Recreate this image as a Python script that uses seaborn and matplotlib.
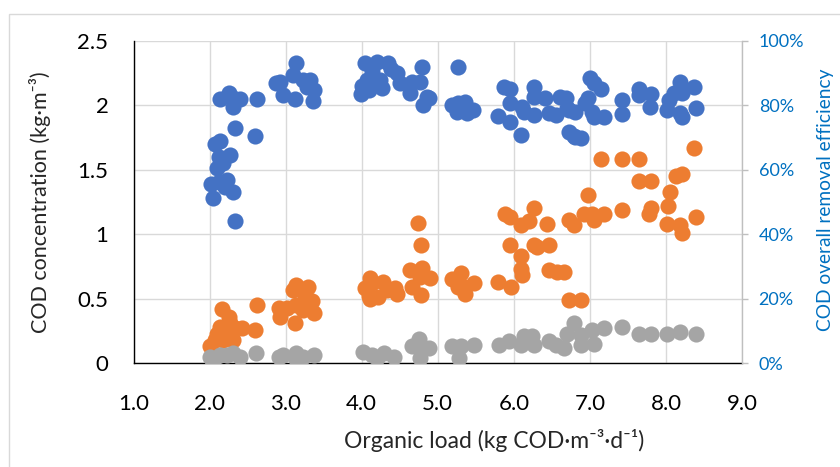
import matplotlib
matplotlib.use("Agg")
import matplotlib.pyplot as plt
from matplotlib.patches import Rectangle
import seaborn as sns
import pandas as pd

# ---------------- data ----------------
# Series 1 (blue, right axis): COD overall removal efficiency (%)
eff_load = [2.14, 2.26, 2.31, 2.40, 2.31, 2.62, 2.34, 2.60, 2.07, 2.14, 2.13, 2.27, 2.18, 2.10,
            2.02, 2.12, 2.23, 2.20, 2.31, 2.04, 2.33,
            2.92, 2.88, 3.14, 3.10, 3.23, 3.32, 3.28, 3.37, 2.96, 3.12, 3.36,
            4.05, 4.20, 4.34, 4.14, 4.38, 4.47, 4.07, 4.24, 4.09, 4.27, 4.51, 3.99, 4.00,
            4.66, 4.64, 4.79, 4.77, 4.86, 4.81, 4.89,
            5.27, 5.19, 5.27, 5.36, 5.38, 5.47, 5.25,
            5.87, 5.95, 5.95, 5.79, 5.95, 6.10, 6.11, 6.13, 6.26, 6.26, 6.27, 6.41, 6.46,
            6.56, 6.61, 6.68, 6.72, 6.72, 6.81,
            7.00, 7.05, 7.14, 6.70, 6.81, 6.94, 6.98, 7.03, 7.05, 7.18, 6.79, 6.88,
            7.42, 7.42, 7.64, 7.64, 7.80, 7.79, 8.01, 8.04, 8.11, 8.18, 8.21, 8.19, 8.21,
            8.37, 8.39]
eff_pct = [81.8, 83.7, 82.1, 81.8, 79.3, 81.8, 73.0, 70.4, 68.0, 68.9, 64.0, 64.6, 62.0, 60.4,
           55.6, 56.3, 56.8, 54.7, 53.2, 51.3, 44.1,
           87.3, 86.8, 93.0, 89.4, 87.8, 87.8, 85.7, 84.7, 83.2, 81.8, 81.3,
           93.1, 93.4, 93.1, 90.6, 91.2, 90.0, 87.8, 87.8, 84.7, 85.4, 86.9, 83.5, 86.1,
           87.3, 83.7, 91.8, 87.3, 82.6, 80.1, 82.1,
           91.8, 80.1, 80.8, 81.1, 77.5, 78.5, 78.0,
           85.7, 84.9, 80.8, 76.7, 74.9, 70.8, 79.5, 78.0, 77.0, 85.7, 82.6, 82.1, 77.5,
           77.0, 82.6, 82.1, 78.5, 71.8, 70.2,
           88.5, 86.8, 84.9, 79.0, 78.0, 80.6, 82.1, 78.0, 76.4, 76.4, 70.4, 69.7,
           81.6, 77.2, 84.9, 83.2, 83.5, 79.5, 78.5, 81.6, 83.7, 87.3, 83.7, 77.5, 76.4,
           85.7, 79.2]

# Series 2 (orange, left axis): COD concentration (kg/m3)
mid_load = [2.01, 2.16, 2.25, 2.14, 2.27, 2.10, 2.23, 2.34, 2.42, 2.07, 2.18, 2.31, 2.62, 2.60,
            2.91, 2.93, 3.13, 3.10, 3.30, 3.26, 3.13, 3.23, 3.35, 3.37, 3.12, 3.02,
            4.05, 4.11, 4.11, 4.14, 4.28, 4.44, 4.09, 4.22, 4.47,
            4.74, 4.78, 4.64, 4.79, 4.77, 4.90, 4.66, 4.78, 4.33,
            5.19, 5.30, 5.27, 5.36, 5.48, 5.36, 5.79, 5.96,
            5.88, 5.95, 6.26, 6.10, 6.20, 6.44, 6.72, 5.95, 6.10, 6.26, 6.31, 6.46,
            6.10, 6.11, 6.46, 6.57, 6.66, 6.72, 6.88,
            7.14, 7.42, 7.64, 8.37, 7.64, 7.80, 8.13, 8.21, 8.05, 6.98, 6.79, 6.92,
            7.03, 7.05, 7.18, 7.42, 7.80, 7.78, 8.03, 8.01, 8.19, 8.21, 8.39]
mid_cod = [0.13, 0.42, 0.36, 0.28, 0.31, 0.23, 0.23, 0.27, 0.27, 0.18, 0.18, 0.18, 0.45, 0.26,
           0.43, 0.36, 0.61, 0.57, 0.59, 0.53, 0.45, 0.41, 0.48, 0.39, 0.31, 0.43,
           0.58, 0.66, 0.50, 0.62, 0.63, 0.58, 0.52, 0.51, 0.54,
           1.09, 0.92, 0.72, 0.74, 0.67, 0.66, 0.59, 0.53, 0.57,
           0.65, 0.70, 0.59, 0.54, 0.62, 0.59, 0.63, 0.59,
           1.16, 1.13, 1.20, 1.07, 1.10, 1.08, 1.11, 0.92, 0.83, 0.92, 0.90, 0.92,
           0.73, 0.68, 0.72, 0.71, 0.71, 0.49, 0.49,
           1.58, 1.58, 1.58, 1.67, 1.41, 1.41, 1.45, 1.47, 1.33, 1.30, 1.07, 1.16,
           1.16, 1.11, 1.16, 1.19, 1.20, 1.16, 1.22, 1.08, 1.07, 1.01, 1.13]

# Series 3 (gray, left axis): COD concentration (kg/m3)
out_load = [2.01, 2.05, 2.14, 2.23, 2.31, 2.40, 2.61, 2.91, 2.97, 3.13, 3.13, 3.23, 3.37,
            4.02, 4.13, 4.20, 4.29, 4.42, 4.66, 4.75, 4.75, 4.88, 4.77,
            5.19, 5.30, 5.48, 5.28, 5.80, 5.94, 6.13, 6.24, 6.09, 6.26, 6.46, 6.55, 6.66,
            6.79, 6.70, 6.88, 7.03, 7.05, 7.18, 6.88, 7.42, 7.64, 7.80, 8.02, 8.19, 8.39]
out_cod = [0.05, 0.01, 0.06, 0.06, 0.08, 0.05, 0.08, 0.05, 0.06, 0.08, 0.03, 0.05, 0.06,
           0.09, 0.06, 0.04, 0.08, 0.05, 0.13, 0.19, 0.13, 0.12, 0.04,
           0.13, 0.13, 0.14, 0.04, 0.14, 0.17, 0.21, 0.21, 0.14, 0.14, 0.17, 0.14, 0.12,
           0.31, 0.23, 0.22, 0.26, 0.15, 0.27, 0.14, 0.28, 0.23, 0.23, 0.23, 0.24, 0.23]

x_ticks = [1.0, 2.0, 3.0, 4.0, 5.0, 6.0, 7.0, 8.0, 9.0]
y_ticks = [0, 0.5, 1, 1.5, 2, 2.5]
y2_ticks = [0, 20, 40, 60, 80, 100]

# ---------------- style ----------------
sns.set_style("white")
plt.rcParams["font.family"] = ["Lato", "DejaVu Sans"]

BLUE = "#4472C4"
ORANGE = "#ED7D31"
GRAY = "#A5A5A5"
GRID = "#D9D9D9"
LABEL_BLUE = "#0070C0"

fig = plt.figure(figsize=(8.4, 4.67), dpi=100)
ax = fig.add_axes([133.5 / 840, 1 - 363.2 / 467, (742 - 133.5) / 840, (363.2 - 40.7) / 467])

# outer chart border
fig.patches.append(Rectangle((9 / 840, -0.2), 1.2, 0.2 + (1 - 14 / 467), transform=fig.transFigure,
                             fill=False, edgecolor=GRID, linewidth=1.0, zorder=0))

df_mid = pd.DataFrame({"load": mid_load, "cod": mid_cod})
df_out = pd.DataFrame({"load": out_load, "cod": out_cod})
df_eff = pd.DataFrame({"load": eff_load, "eff": eff_pct})

MS = 135
sns.scatterplot(data=df_mid, x="load", y="cod", ax=ax, color=ORANGE, s=MS, linewidth=0, legend=False, zorder=3)
sns.scatterplot(data=df_out, x="load", y="cod", ax=ax, color=GRAY, s=MS, linewidth=0, legend=False, zorder=4)

ax.set_xlim(1, 9)
ax.set_ylim(0, 2.5)
ax.set_xticks(x_ticks)
ax.set_xticklabels([f"{v:.1f}" for v in x_ticks])
ax.set_yticks(y_ticks)
ax.set_yticklabels([f"{v:g}" for v in y_ticks])
ax.grid(True, color=GRID, linewidth=1.0)
ax.set_axisbelow(True)
ax.tick_params(axis="both", length=0, labelsize=16, colors="black")
ax.tick_params(axis="x", pad=22)
ax.tick_params(axis="y", pad=18)
for side in ["top", "right"]:
    ax.spines[side].set_visible(False)
ax.spines["left"].set_color("black")
ax.spines["bottom"].set_color("black")
ax.spines["left"].set_linewidth(1.0)
ax.spines["bottom"].set_linewidth(1.0)
ax.set_xlabel("")
ax.set_ylabel("")

ax2 = ax.twinx()
sns.scatterplot(data=df_eff, x="load", y="eff", ax=ax2, color=BLUE, s=MS, linewidth=0, legend=False, zorder=5)
ax2.set_ylim(0, 100)
ax2.set_yticks(y2_ticks)
ax2.set_yticklabels([f"{v}%" for v in y2_ticks])
ax2.tick_params(axis="y", length=4, width=1, color="#BFBFBF", labelsize=13, labelcolor=LABEL_BLUE, pad=8)
for side in ["top", "left", "bottom"]:
    ax2.spines[side].set_visible(False)
ax2.spines["right"].set_color("#BFBFBF")
ax2.spines["right"].set_linewidth(1.0)
ax2.set_ylabel("")
ax2.set_xlabel("")
ax2.set_xlim(1, 9)

fig.text(40 / 840, 1 - 202 / 467, "COD concentration (kg·m⁻³)", rotation=90,
         ha="center", va="center", fontsize=15.5)
fig.text(826 / 840, 1 - 200 / 467, "COD overall removal efficiency", rotation=90,
         ha="center", va="center", fontsize=13.8, color=LABEL_BLUE)
fig.text(494 / 840, 1 - 440 / 467, "Organic load (kg COD·m⁻³·d⁻¹)",
         ha="center", va="center", fontsize=16.5)

fig.savefig("out.png", dpi=100)
